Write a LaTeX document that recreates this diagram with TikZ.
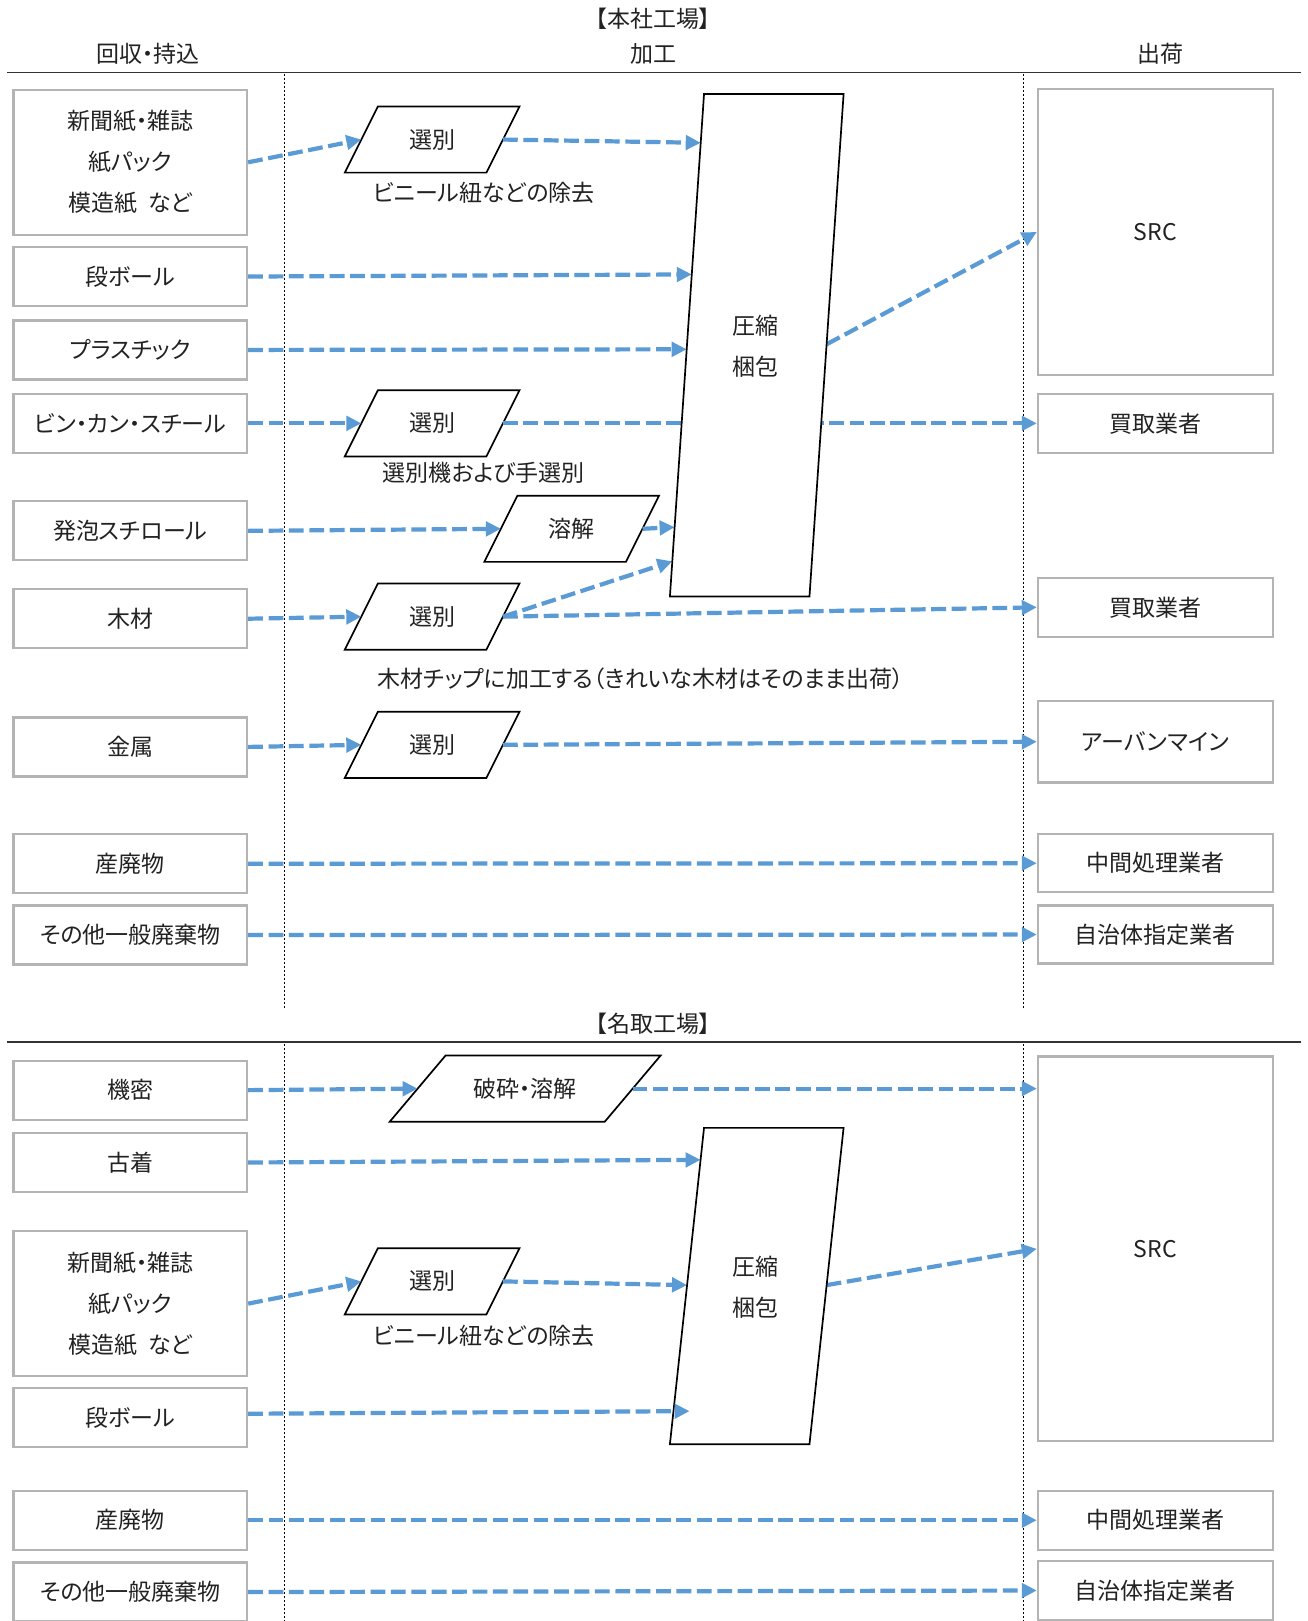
\documentclass[tikz,border=0pt]{standalone}
\usepackage{fontspec}
\setmainfont{Noto Sans CJK JP}[RawFeature=+palt]
\usetikzlibrary{arrows.meta,calc}
\definecolor{flow}{HTML}{5B9BD5}
\definecolor{boxgray}{HTML}{B4B4B4}
\definecolor{txt}{HTML}{222222}
% parallelogram process box: name, x, y, half width at mid height, slant, text
\newcommand\procpara[6]{%
  \draw[parab] (#2-#4+#5/2,#3-32) -- (#2+#4+#5/2,#3-32) -- (#2+#4-#5/2,#3+32) -- (#2-#4-#5/2,#3+32) -- cycle;
  \node[lbl] (#1) at (#2,#3) {#6};
  \coordinate (#1-w) at (#2-#4,#3);
  \coordinate (#1-e) at (#2+#4,#3);
}
\begin{document}
\begin{tikzpicture}[x=0.517pt,y=-0.517pt,
  every node/.style={text=txt,font=\fontsize{11.5}{20.5}\selectfont},
  srcbox/.style={draw=boxgray,line width=1.1pt,fill=white,minimum width=116.8pt,minimum height=29.5pt,align=center,inner sep=0pt},
  dstbox/.style={draw=boxgray,line width=1.1pt,fill=white,minimum width=117.4pt,minimum height=29.5pt,align=center,inner sep=0pt},
  parab/.style={draw=black,line width=0.85pt,fill=white},
  flowarrow/.style={draw=flow,line width=2.1pt,dash pattern=on 7.4pt off 2.8pt,-{Triangle[length=7.5pt,width=7.2pt]}},
  sep/.style={draw=black!80,line width=0.7pt},
  vdot/.style={draw=black,line width=0.5pt,dash pattern=on 0.9pt off 1.1pt},
  lbl/.style={inner sep=0pt,align=center}
]
\useasboundingbox[fill=white] (0,0) rectangle (1265,1568);

% ---------------- headers (top)
\node[lbl] (t1) at (632,18) {【本社工場】};
\node[lbl] (h1) at (143,52) {回収・持込};
\node[lbl] (h2) at (632,52) {加工};
\node[lbl] (h3) at (1123,52) {出荷};
\draw[sep] (7,70) -- (1258,70);
\draw[vdot] (275,72) -- (275,975);
\draw[vdot] (990,72) -- (990,975);

% ---------------- bottom header
\node[lbl] (t2) at (632,990) {【名取工場】};
\draw[sep] (7,1008) -- (1258,1008);
\draw[vdot] (275,1010) -- (275,1568);
\draw[vdot] (990,1010) -- (990,1568);

% ---------------- left boxes (top)
\node[srcbox,minimum height=72.4pt] (lb1) at (126,157) {新聞紙・雑誌\\紙パック\\模造紙\hspace{0.45em}など};
\node[srcbox] (lb2) at (126,267.5) {段ボール};
\node[srcbox] (lb3) at (126,338.5) {プラスチック};
\node[srcbox] (lb4) at (126,409.5) {ビン・カン・スチール};
\node[srcbox] (lb5) at (126,513.5) {発泡スチロール};
\node[srcbox] (lb6) at (126,598.5) {木材};
\node[srcbox] (lb7) at (126,722.5) {金属};
\node[srcbox] (lb8) at (126,835.5) {産廃物};
\node[srcbox] (lb9) at (126,904.5) {その他一般廃棄物};

% ---------------- right boxes (top)
\node[dstbox,minimum height=143.2pt] (rb1) at (1117.5,224.5) {SRC};
\node[dstbox] (rb2) at (1117.5,409.5) {買取業者};
\node[dstbox] (rb3) at (1117.5,587.5) {買取業者};
\node[dstbox,minimum height=40.8pt] (rb4) at (1117.5,717.5) {アーバンマイン};
\node[dstbox,minimum height=29pt] (rb5) at (1117.5,835) {中間処理業者};
\node[dstbox,minimum height=29pt] (rb6) at (1117.5,904) {自治体指定業者};

% ---------------- left boxes (bottom)
\node[srcbox] (lc1) at (126,1054.5) {機密};
\node[srcbox] (lc2) at (126,1124.5) {古着};
\node[srcbox,minimum height=72.4pt] (lc3) at (126,1261) {新聞紙・雑誌\\紙パック\\模造紙\hspace{0.45em}など};
\node[srcbox] (lc4) at (126,1371.5) {段ボール};
\node[srcbox] (lc5) at (126,1470.5) {産廃物};
\node[srcbox] (lc6) at (126,1540) {その他一般廃棄物};

% ---------------- right boxes (bottom)
\node[dstbox,minimum height=192.3pt] (rc1) at (1117.5,1208) {SRC};
\node[dstbox] (rc2) at (1117.5,1470.5) {中間処理業者};
\node[dstbox] (rc3) at (1117.5,1538.5) {自治体指定業者};

% ---------------- process parallelograms (top)
\procpara{p1}{418}{135}{68.5}{32}{選別}
\procpara{p2}{418}{409.5}{68.5}{32}{選別}
\procpara{p3}{553}{511.5}{68.5}{32}{溶解}
\procpara{p4}{418}{596.5}{68.5}{32}{選別}
\procpara{p5}{418}{720.5}{68.5}{32}{選別}
\node[lbl] (n1) at (468,187) {ビニール紐などの除去};
\node[lbl] (n2) at (468,457) {選別機および手選別};
\node[lbl] (n3) at (620,657) {木材チップに加工する（きれいな木材はそのまま出荷）};

% ---------------- process parallelograms (bottom)
\procpara{q1}{508}{1053}{104}{54}{破砕・溶解}
\procpara{q2}{418}{1239.5}{68.5}{32}{選別}
\node[lbl] (n4) at (468,1292) {ビニール紐などの除去};

% ---------------- compression shape corners
\coordinate (ctl) at (681,91);  \coordinate (ctr) at (816,91);
\coordinate (cbl) at (648,577); \coordinate (cbr) at (783,577);
\coordinate (dtl) at (681,1091);  \coordinate (dtr) at (816,1091);
\coordinate (dbl) at (648,1397); \coordinate (dbr) at (783,1397);

% edge points (top)
\coordinate (c1) at ($(ctl)!0.097!(cbl)$);
\coordinate (c2) at ($(ctl)!0.359!(cbl)$);
\coordinate (c3) at ($(ctl)!0.508!(cbl)$);
\coordinate (c4) at ($(ctl)!0.862!(cbl)$);
\coordinate (c5) at ($(ctl)!0.930!(cbl)$);
\coordinate (co) at ($(ctr)!0.498!(cbr)$);
% edge points (bottom)
\coordinate (d1) at ($(dtl)!0.101!(dbl)$);
\coordinate (d2) at ($(dtl)!0.497!(dbl)$);
\coordinate (d3) at (667,1365);
\coordinate (do) at ($(dtr)!0.497!(dbr)$);
\coordinate (lc4o) at ($(lc4.east)+(0,-4)$);

% ---------------- connectors (top)
\draw[flowarrow] (lb1.east) -- (p1-w);
\draw[flowarrow] (p1-e) -- (c1);
\draw[flowarrow] (lb2.east) -- (c2);
\draw[flowarrow] (lb3.east) -- (c3);
\draw[flowarrow] (lb4.east) -- (p2-w);
\draw[flowarrow] (p2-e) -- (rb2.west);
\draw[flowarrow] (lb5.east) -- (p3-w);
\draw[flowarrow] (p3-e) -- (c4);
\draw[flowarrow] (lb6.east) -- (p4-w);
\draw[flowarrow] (p4-e) -- (c5);
\draw[flowarrow] (p4-e) -- (rb3.west);
\draw[flowarrow] (lb7.east) -- (p5-w);
\draw[flowarrow] (p5-e) -- (rb4.west);
\draw[flowarrow] (lb8.east) -- (rb5.west);
\draw[flowarrow] (lb9.east) -- (rb6.west);
\draw[flowarrow] (co) -- (rb1.west);

% compression shape (top), drawn over the through line
\draw[parab] (ctl) -- (ctr) -- (cbr) -- (cbl) -- cycle;
\node[lbl] (cmp1) at (731,335) {圧縮\\梱包};

% ---------------- connectors (bottom)
\draw[flowarrow] (lc1.east) -- (q1-w);
\draw[flowarrow] (q1-e) -- (q1-e -| rc1.west);
\draw[flowarrow] (lc2.east) -- (d1);
\draw[flowarrow] (lc3.east) -- (q2-w);
\draw[flowarrow] (q2-e) -- (d2);
\draw[flowarrow] (do) -- (rc1.west);
\draw[flowarrow] (lc5.east) -- (rc2.west);
\draw[flowarrow] (lc6.east) -- (rc3.west);

\draw[parab] (dtl) -- (dtr) -- (dbr) -- (dbl) -- cycle;
\node[lbl] (cmp2) at (731,1245.5) {圧縮\\梱包};
\draw[flowarrow] (lc4o) -- (d3);
\end{tikzpicture}
\end{document}
